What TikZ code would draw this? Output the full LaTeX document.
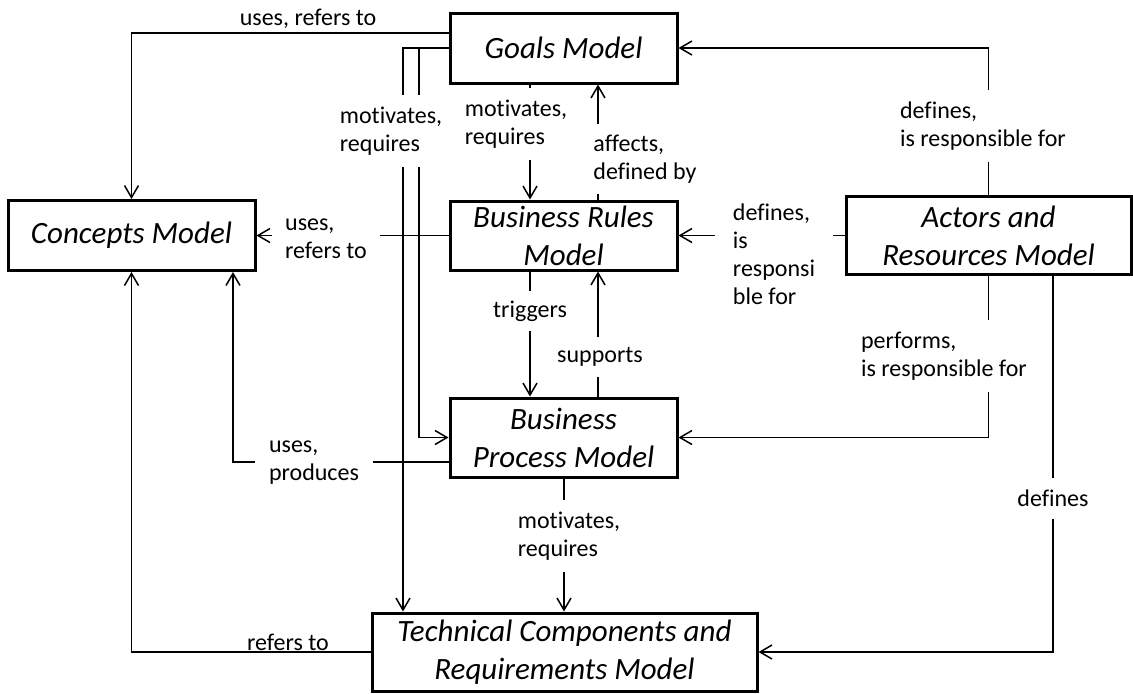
\documentclass[tikz,border=0pt]{standalone}
\usepackage{fontspec}
\setmainfont{Carlito}[Ligatures=NoCommon]
\usetikzlibrary{arrows.meta}

\begin{document}
\begin{tikzpicture}[x=0.5pt,y=-0.5pt,
  model/.style={draw, line width=1.5pt, align=center, inner sep=0pt,
    font=\fontsize{15.5}{19}\selectfont\itshape},
  link/.style={line width=0.75pt,
    -{Straight Barb[length=6pt,width=7pt,line width=0.75pt]}},
  tag/.style={align=left, fill=white, inner xsep=2pt, inner ysep=2pt,
    font=\fontsize{12}{14}\selectfont},
  note/.style={align=left, inner sep=0pt, font=\fontsize{12}{14}\selectfont},
]
\useasboundingbox (0,0) rectangle (1133,693);

% model boxes
\node[model, minimum width=113.5pt, minimum height=35pt]   (goals)    at (563.5,48)    {Goals Model};
\node[model, minimum width=123.5pt, minimum height=35pt]   (concepts) at (131.5,235.5) {Concepts Model};
\node[model, minimum width=113.5pt, minimum height=34.5pt] (rules)    at (563.5,235.5) {Business Rules\\Model};
\node[model, minimum width=142.5pt, minimum height=39pt]   (actors)   at (988.5,235.5) {Actors and\\Resources Model};
\node[model, minimum width=113.5pt, minimum height=39.5pt] (process)  at (563.5,437.5) {Business\\Process Model};
\node[model, minimum width=192.5pt, minimum height=39pt]   (tech)     at (564.5,652)   {Technical Components and\\Requirements Model};

% relations
\draw[link] (goals.west |- 0,33) -| (concepts.north);
\draw[link] (goals.west) -| (tech.north -| 403,0);
\draw[link] (goals.west) -| (process.west -| 419,0) -- (process.west);
\draw[link] (goals.south -| 530,0) -- (rules.north -| 530,0);
\draw[link] (rules.north -| 598,0) -- (goals.south -| 598,0);
\draw[link] (actors.north) |- (goals.east);
\draw[link] (rules.west) -- (concepts.east);
\draw[link] (actors.west) -- (rules.east);
\draw[link] (rules.south -| 530,0) -- (process.north -| 530,0);
\draw[link] (process.north -| 598,0) -- (rules.south -| 598,0);
\draw[link] (actors.south) |- (process.east);
\draw[link] (actors.south -| 1053,0) |- (tech.east);
\draw[link] (process.west |- 0,462) -| (concepts.south -| 233,0);
\draw[link] (tech.west) -| (concepts.south);
\draw[link] (process.south -| 564,0) -- (tech.north -| 564,0);

% relation labels
\node[note] (l-uses-top) at (308,19) {uses, refers to};
\node[tag, inner ysep=6pt] (l-mot-left) at (391,131) {motivates,\\requires};
\node[tag, inner ysep=6pt] (l-mot-mid) at (516,124) {motivates,\\requires};
\node[tag, inner ysep=5.5pt] (l-affects) at (645,159) {affects,\\defined by};
\node[tag, inner ysep=6pt] (l-def-top) at (983,126) {defines,\\is responsible for};
\node[tag, inner xsep=6.5pt] (l-uses-mid) at (326,239) {uses,\\refers to};
\node[tag, inner xsep=9pt] (l-def-mid) at (774,254) {defines,\\is\\responsi\\ble for};
\node[tag, inner ysep=5pt] (l-trig) at (530,311) {triggers};
\node[tag, inner ysep=5pt] (l-supp) at (600,357) {supports};
\node[tag, inner ysep=6pt] (l-perf) at (944,356) {performs,\\is responsible for};
\node[tag, inner ysep=5.9pt] (l-def-right) at (1053,498.5) {defines};
\node[tag, inner xsep=7pt] (l-uses-prod) at (314,463) {uses,\\produces};
\node[note] (l-refers) at (288,642) {refers to};
\node[tag, inner ysep=6pt] (l-mot-low) at (569,536) {motivates,\\requires};
\end{tikzpicture}
\end{document}
